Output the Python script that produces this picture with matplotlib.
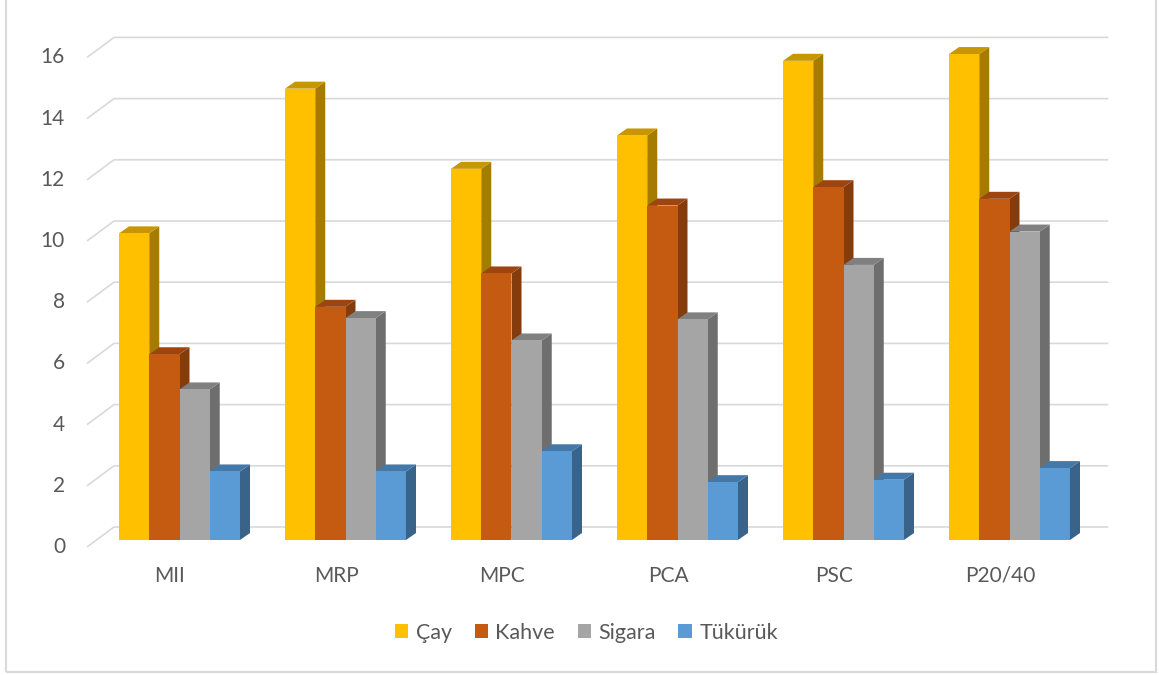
"""Pseudo-3D clustered column chart (Excel style) rebuilt with matplotlib."""

import matplotlib

matplotlib.use("Agg")
import matplotlib.pyplot as plt
from matplotlib.patches import Patch, Polygon, Rectangle

plt.rcParams["font.family"] = ["Lato", "DejaVu Sans"]

categories = ["MII", "MRP", "MPC", "PCA", "PSC", "P20/40"]
series_names = ["Çay", "Kahve", "Sigara", "Tükürük"]
cay = [10.02, 14.75, 12.13, 13.22, 15.66, 15.88]
kahve = [6.07, 7.62, 8.71, 10.93, 11.53, 11.15]
sigara = [4.92, 7.25, 6.52, 7.21, 8.99, 10.08]
tukuruk = [2.24, 2.24, 2.90, 1.89, 1.97, 2.35]
y_ticks = [0, 2, 4, 6, 8, 10, 12, 14, 16]

front_colors = ["#FFC000", "#C55A11", "#A5A5A5", "#5B9BD5"]
top_colors = ["#C79600", "#9C4510", "#808080", "#4478A8"]
side_colors = ["#A67C00", "#843C0C", "#6E6E6E", "#3A6389"]
grid_color = "#D9D9D9"
text_color = "#595959"

W, H, DPI = 1159, 675, 100
PX_X = 166.0        # pixels per category
PX_Y = 30.6         # pixels per value unit
ORIGIN_X = 96.5     # pixel x of category 0 in the bar plane
ORIGIN_Y = 540.0    # pixel y of value 0 in the bar plane


def px_dx(px):
    return px / PX_X


def px_dy(px):
    return px / PX_Y


fig = plt.figure(figsize=(W / DPI, H / DPI), dpi=DPI)
ax = fig.add_axes([0, 0, 1, 1])
ax.set_xlim(-ORIGIN_X / PX_X, (W - ORIGIN_X) / PX_X)
ax.set_ylim((ORIGIN_Y - H) / PX_Y, ORIGIN_Y / PX_Y)
ax.axis("off")

# floor front edge / back wall offsets relative to the bar plane
front_dx, front_dy = px_dx(-9.5), px_dy(-7)
back_dx, back_dy = px_dx(17.5), px_dy(13)
n_cat = len(categories)

for v in y_ticks:
    ax.plot([front_dx, back_dx, n_cat + back_dx - 0.01],
            [v + front_dy, v + back_dy, v + back_dy],
            color=grid_color, lw=1.2, zorder=1, solid_capstyle="butt")
    ax.text(px_dx(-31.5), v + front_dy, str(v), ha="right", va="center",
            fontsize=15, color=text_color)

bar_w = px_dx(30.25)
side_dx, side_dy = px_dx(10), px_dy(7)
all_series = [cay, kahve, sigara, tukuruk]
group_w = bar_w * len(all_series)

for i in range(n_cat):
    left = i + 0.5 - group_w / 2
    for s, values in enumerate(all_series):
        x0 = left + s * bar_w
        v = values[i]
        z = 2 + s * 0.1 + i
        side = Polygon([(x0 + bar_w, 0), (x0 + bar_w + side_dx, side_dy),
                        (x0 + bar_w + side_dx, v + side_dy), (x0 + bar_w, v)],
                       closed=True, facecolor=side_colors[s], edgecolor="none", zorder=z)
        top = Polygon([(x0, v), (x0 + bar_w, v), (x0 + bar_w + side_dx, v + side_dy),
                       (x0 + side_dx, v + side_dy)],
                      closed=True, facecolor=top_colors[s], edgecolor="none", zorder=z)
        front = Rectangle((x0, 0), bar_w, v, facecolor=front_colors[s],
                          edgecolor="none", zorder=z + 0.01)
        ax.add_patch(side)
        ax.add_patch(top)
        ax.add_patch(front)
    ax.text(i + 0.5 + front_dx, px_dy(-36), categories[i], ha="center", va="center",
            fontsize=15, color=text_color)

handles = [Patch(facecolor=c, edgecolor="none") for c in front_colors]
fig.legend(handles, series_names, loc="center", bbox_to_anchor=(0.506, 1 - 633 / H),
           ncol=4, frameon=False, fontsize=15.5, labelcolor=text_color,
           handlelength=0.62, handleheight=0.62, handletextpad=0.35, columnspacing=1.05)

fig.add_artist(Rectangle((5.5 / W, 3 / H), (1156 - 5.5) / W, 1.2, transform=fig.transFigure,
                         facecolor="none", edgecolor=grid_color, lw=1.5))

fig.savefig("out.png", dpi=DPI)
plt.close(fig)
